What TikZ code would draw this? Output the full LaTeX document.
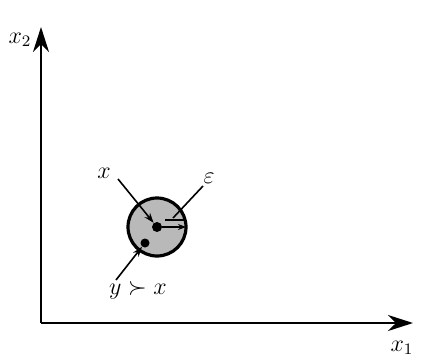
\documentclass[tikz,border=0pt]{standalone}
\usepackage{amsmath,amssymb}
\usetikzlibrary{arrows.meta,calc}
\begin{document}
\begin{tikzpicture}[x=0.5pt,y=0.5pt,font=\large,
    axis/.style={line width=1pt,-{Stealth[length=12.5pt,width=8pt,inset=4pt]}},
    leader/.style={line width=0.8pt,-{Stealth[length=5pt,width=3.5pt]}}]
    \useasboundingbox (0,0) rectangle (421,359);
    \coordinate (O) at (41,36);
    \coordinate (top) at (41,332);
    \coordinate (right) at (413,36);
    \draw[axis] (O) -- (top);
    \draw[axis] (O) -- (right);
    \node (xtwo) at (20,319) {$x_2$};
    \node (xone) at (402,11) {$x_1$};
    % the neighbourhood
    \coordinate (c) at (157,132);
    \draw[line width=1.6pt,fill=gray!55] (c) circle (29);
    \node[circle,fill=black,inner sep=0pt,minimum size=5pt] (pt) at (c) {};
    \node[circle,fill=black,inner sep=0pt,minimum size=4.5pt] (better) at (145,116) {};
    \coordinate (rim) at (186,132);
    \draw[line width=0.8pt,-{Stealth[length=4pt,width=3pt]}] (pt) -- (rim);
    \draw[line width=0.6pt] (165,139) -- (186,139);
    % labels
    \node (xl) at (104,186) {$x$};
    \node (el) at (209,181) {$\varepsilon$};
    \node (yl) at (138,69) {$y \succ x$};
    \draw[leader] (118,180) -- (pt);
    \draw[line width=0.8pt] (203,173) -- (173,141);
    \draw[leader] (116,79) -- (better);
\end{tikzpicture}
\end{document}
